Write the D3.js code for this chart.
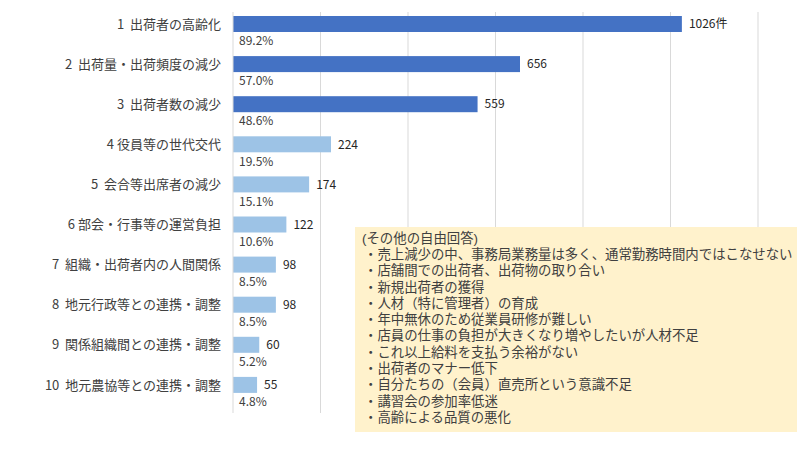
<!DOCTYPE html>
<html>
<head>
<meta charset="utf-8">
<script src="https://cdn.jsdelivr.net/npm/d3@7"></script>
<style>
body { margin: 0; background: #fff; }
svg { display: block; font-family: "Noto Sans CJK JP", "Noto Sans", sans-serif; }
</style>
</head>
<body>
<svg id="canvas"></svg>
<script>
// data
var categories = ["1  出荷者の高齢化", "2  出荷量・出荷頻度の減少", "3  出荷者数の減少", "4 役員等の世代交代",
	"5  会合等出席者の減少", "6 部会・行事等の運営負担", "7  組織・出荷者内の人間関係",
	"8  地元行政等との連携・調整", "9  関係組織間との連携・調整", "10  地元農協等との連携・調整"];
var counts = [1026, 656, 559, 224, 174, 122, 98, 98, 60, 55];
var shares = ["89.2%", "57.0%", "48.6%", "19.5%", "15.1%", "10.6%", "8.5%", "8.5%", "5.2%", "4.8%"];
var gridTicks = [200, 400, 600, 800, 1000, 1200];
var notes = ["(その他の自由回答)",
	"・売上減少の中、事務局業務量は多く、通常勤務時間内ではこなせない",
	"・店舗間での出荷者、出荷物の取り合い",
	"・新規出荷者の獲得",
	"・人材（特に管理者）の育成",
	"・年中無休のため従業員研修が難しい",
	"・店員の仕事の負担が大きくなり増やしたいが人材不足",
	"・これ以上給料を支払う余裕がない",
	"・出荷者のマナー低下",
	"・自分たちの（会員）直売所という意識不足",
	"・講習会の参加率低迷",
	"・高齢による品質の悪化"];

var colorTop = "#4472C4";
var colorRest = "#9DC3E6";

const width = 800,
	height = 450,
	svg = d3.select('svg#canvas')
	.attr('width', width)
	.attr('height', height);

const x = d3.scaleLinear().domain([0, 1200]).range([233, 758]);
const y = d3.scaleBand().domain(categories).range([12, 413]);

// gridlines
svg.selectAll('line.grid')
	.data(gridTicks)
	.enter().append('line')
	.attr('x1', d => x(d)).attr('x2', d => x(d))
	.attr('y1', 12).attr('y2', 413)
	.attr('stroke', '#D9D9D9').attr('stroke-width', 1);

// bars
svg.selectAll('rect.bar')
	.data(counts)
	.enter().append('rect')
	.attr('x', x(0))
	.attr('y', (d, i) => y(categories[i]) + 4)
	.attr('width', d => x(d) - x(0))
	.attr('height', 16)
	.attr('fill', (d, i) => i < 3 ? colorTop : colorRest);

// axis line
svg.append('line')
	.attr('x1', x(0)).attr('x2', x(0))
	.attr('y1', 12).attr('y2', 413)
	.attr('stroke', '#D9D9D9');

// category labels
svg.selectAll('text.cat')
	.data(categories)
	.enter().append('text')
	.attr('x', 221)
	.attr('y', d => y(d) + y.bandwidth() / 2 - 8)
	.attr('dy', '0.35em')
	.attr('text-anchor', 'end')
	.attr('font-size', 13)
	.attr('fill', '#404040')
	.style('white-space', 'pre')
	.text(d => d);

// value labels
svg.selectAll('text.val')
	.data(counts)
	.enter().append('text')
	.attr('x', d => x(d) + 7)
	.attr('y', (d, i) => y(categories[i]) + 12)
	.attr('dy', '0.35em')
	.attr('font-size', 12)
	.attr('fill', '#262626')
	.text((d, i) => i === 0 ? d + "件" : d);

// share labels
svg.selectAll('text.pct')
	.data(shares)
	.enter().append('text')
	.attr('x', x(0) + 6)
	.attr('y', (d, i) => y(categories[i]) + 29)
	.attr('dy', '0.35em')
	.attr('font-size', 12)
	.attr('fill', '#404040')
	.text(d => d);

// free answer box
svg.append('rect')
	.attr('x', 355).attr('y', 227)
	.attr('width', 442).attr('height', 205)
	.attr('fill', '#FFF2CC');

// lines are packed tight, so use a latin primary font with a shorter line box
svg.selectAll('text.note')
	.data(notes)
	.enter().append('text')
	.attr('x', (d, i) => i === 0 ? 362 : 364)
	.attr('y', (d, i) => 238 + i * 16.3)
	.attr('dy', '0.35em')
	.attr('font-size', 13.4)
	.attr('fill', '#404040')
	.style('font-family', '"Liberation Sans", "Noto Sans CJK JP", sans-serif')
	.text(d => d);
</script>
</body>
</html>
